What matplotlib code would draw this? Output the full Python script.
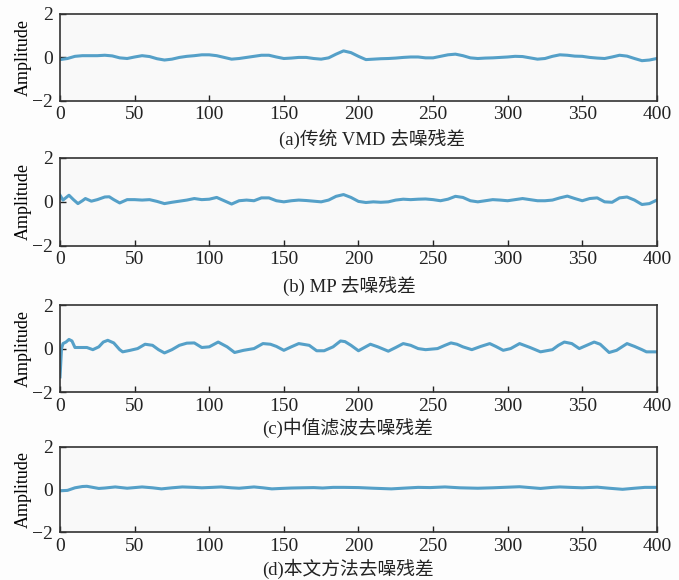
import matplotlib
matplotlib.use('Agg')
import matplotlib.pyplot as plt

plt.rcParams['font.family'] = ['Liberation Serif', 'Noto Sans CJK SC', 'DejaVu Sans']

# (a) conventional VMD residual
x_a = list(range(0, 401, 5))
y_a = [-0.1, -0.05, 0.05, 0.08, 0.08, 0.08, 0.1, 0.07, -0.02, -0.05,
       0.02, 0.08, 0.04, -0.06, -0.12, -0.08, 0.0, 0.05, 0.08, 0.12,
       0.12, 0.08, 0.0, -0.08, -0.05, 0.0, 0.05, 0.1, 0.1, 0.02,
       -0.05, -0.03, 0.0, 0.0, -0.05, -0.08, -0.02, 0.15, 0.3, 0.22,
       0.05, -0.1, -0.08, -0.06, -0.05, -0.03, 0.0, 0.02, 0.02, -0.02,
       -0.02, 0.05, 0.12, 0.15, 0.08, -0.02, -0.05, -0.03, -0.02, 0.0,
       0.02, 0.05, 0.04, -0.02, -0.08, -0.05, 0.05, 0.12, 0.1, 0.06,
       0.05, 0.0, -0.03, -0.05, 0.02, 0.1, 0.06, -0.05, -0.15, -0.12,
       -0.05]

# (b) MP residual
x_b = [0, 2, 6, 9, 12, 15, 17, 21, 25, 30, 33, 36, 40, 45, 50, 55, 60, 65, 70,
       75, 80, 85, 90, 95, 100, 105, 110, 115, 120, 125, 130, 135, 140, 145,
       150, 155, 160, 165, 170, 175, 180, 185, 190, 195, 200, 205, 210, 215,
       220, 225, 230, 235, 240, 245, 250, 255, 260, 265, 270, 275, 280, 285,
       290, 295, 300, 305, 310, 315, 320, 325, 330, 335, 340, 345, 350, 355,
       360, 365, 370, 375, 380, 385, 390, 395, 400]
y_b = [0.3, 0.08, 0.3, 0.1, -0.08, 0.05, 0.15, 0.03, 0.1, 0.22, 0.23, 0.1,
       -0.05, 0.1, 0.1, 0.08, 0.1, 0.02, -0.08, -0.02, 0.03, 0.08, 0.15, 0.1,
       0.12, 0.2, 0.05, -0.1, 0.05, 0.08, 0.05, 0.18, 0.18, 0.05, 0.0, 0.05,
       0.08, 0.06, 0.03, 0.0, 0.08, 0.25, 0.33, 0.2, 0.02, -0.03, 0.0, -0.02,
       0.0, 0.08, 0.12, 0.1, 0.12, 0.13, 0.1, 0.05, 0.12, 0.25, 0.2, 0.05,
       0.0, 0.05, 0.1, 0.08, 0.05, 0.1, 0.15, 0.1, 0.05, 0.05, 0.08, 0.18,
       0.26, 0.15, 0.05, 0.15, 0.18, 0.0, -0.02, 0.18, 0.22, 0.08, -0.12,
       -0.08, 0.08]

# (c) median filter residual
x_c = [0, 1, 2, 4, 6, 8, 10, 15, 18, 22, 26, 29, 32, 36, 40, 42, 47, 52, 57,
       62, 66, 70, 75, 80, 85, 90, 95, 100, 106, 112, 117, 123, 130, 136, 141,
       145, 150, 155, 160, 167, 172, 177, 183, 188, 191, 195, 200, 204, 208,
       213, 220, 225, 230, 235, 240, 245, 253, 258, 262, 266, 270, 276, 282,
       288, 292, 297, 302, 308, 315, 322, 330, 334, 338, 343, 348, 353, 358,
       362, 368, 373, 380, 385, 390, 393, 400]
y_c = [-1.3, 0.0, 0.23, 0.3, 0.42, 0.35, 0.05, 0.05, 0.05, -0.05, 0.08, 0.3,
       0.38, 0.26, -0.05, -0.15, -0.08, 0.0, 0.2, 0.15, -0.05, -0.2, -0.05,
       0.15, 0.25, 0.26, 0.05, 0.08, 0.3, 0.08, -0.18, -0.08, 0.0, 0.23, 0.2,
       0.1, -0.08, 0.08, 0.23, 0.15, -0.1, -0.1, 0.08, 0.35, 0.32, 0.15, -0.1,
       0.05, 0.2, 0.08, -0.12, 0.05, 0.23, 0.15, 0.0, -0.05, 0.0, 0.15, 0.26,
       0.2, 0.08, -0.05, 0.1, 0.23, 0.1, -0.08, 0.0, 0.23, 0.05, -0.15, -0.05,
       0.15, 0.3, 0.23, 0.0, 0.15, 0.3, 0.2, -0.18, -0.08, 0.23, 0.1, -0.05,
       -0.15, -0.15]

# (d) proposed method residual
x_d = [0, 5, 10, 15, 18, 22, 26, 30, 37, 45, 55, 62, 68, 75, 82, 90, 95, 102,
       108, 115, 120, 130, 136, 142, 148, 155, 162, 170, 176, 183, 190, 200,
       210, 222, 232, 240, 248, 258, 268, 280, 290, 297, 308, 315, 322, 330,
       335, 342, 350, 360, 368, 377, 385, 392, 400]
y_d = [-0.06, -0.04, 0.08, 0.14, 0.15, 0.1, 0.05, 0.07, 0.12, 0.06, 0.12,
       0.08, 0.03, 0.08, 0.12, 0.1, 0.08, 0.1, 0.12, 0.08, 0.06, 0.12, 0.08,
       0.03, 0.05, 0.07, 0.08, 0.09, 0.07, 0.1, 0.1, 0.09, 0.06, 0.03, 0.07,
       0.1, 0.09, 0.12, 0.08, 0.06, 0.08, 0.1, 0.13, 0.09, 0.05, 0.1, 0.12,
       0.1, 0.08, 0.11, 0.06, 0.01, 0.06, 0.1, 0.1]

captions = ['(a)传统 VMD 去噪残差', '(b) MP 去噪残差', '(c)中值滤波去噪残差', '(d)本文方法去噪残差']
caption_x = [0.548, 0.515, 0.512, 0.513]
xs = [x_a, x_b, x_c, x_d]
ys = [y_a, y_b, y_c, y_d]

# axes boxes in figure fraction: [left, bottom, width, height]
boxes = [[0.0884, 0.826, 0.879, 0.150],
         [0.0884, 0.576, 0.879, 0.152],
         [0.0884, 0.324, 0.879, 0.150],
         [0.0884, 0.082, 0.879, 0.148]]
caption_y = [0.760, 0.507, 0.262, 0.020]

fig = plt.figure(figsize=(6.79, 5.8), dpi=100)
fig.patch.set_facecolor('#fdfdfd')

for i in range(4):
    ax = fig.add_axes(boxes[i])
    ax.set_facecolor('#f9f9f9')
    ax.plot(xs[i], ys[i], color='#55a0c8', linewidth=2.2)
    ax.set_xlim(0, 400)
    ax.set_ylim(-2, 2)
    ax.set_xticks(range(0, 401, 50))
    ax.set_yticks([-2, 0, 2])
    ax.tick_params(direction='in', length=4, width=1, labelsize=14,
                   colors='#222222')
    ax.tick_params(axis='x', pad=4)
    ax.tick_params(axis='y', pad=5)
    for s in ax.spines.values():
        s.set_color('#333333')
        s.set_linewidth(1.2)
    ax.set_ylabel('Amplitude', fontsize=13, labelpad=0)
    fig.text(caption_x[i], caption_y[i], captions[i], ha='center', va='center',
             fontsize=13.5, color='#222222')

fig.savefig('out.png', dpi=100)
